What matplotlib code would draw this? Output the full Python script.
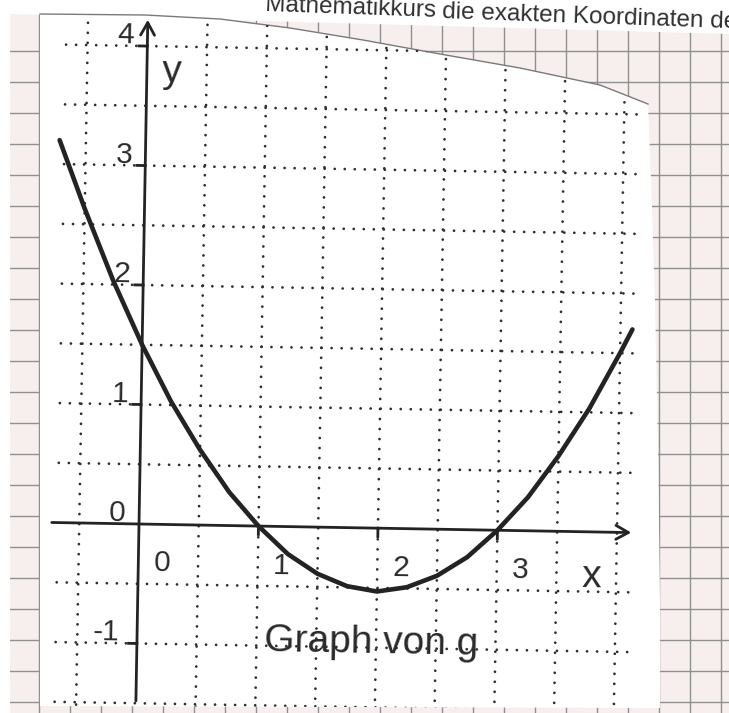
import numpy as np
import matplotlib.pyplot as plt
from matplotlib.patches import Polygon, Rectangle
from matplotlib.transforms import Affine2D

plt.rcParams['font.family'] = ['Liberation Sans', 'DejaVu Sans']

# points of g
x_vals = [-0.72, -0.5, -0.25, 0.0, 0.25, 0.5, 0.75, 1.0, 1.25, 1.5, 1.75, 2.0,
          2.25, 2.5, 2.75, 3.0, 3.25, 3.5, 3.75, 4.0, 4.1]
g_vals = [3.20, 2.63, 2.03, 1.50, 1.03, 0.63, 0.28, 0.0, -0.23, -0.39, -0.49, -0.53,
          -0.49, -0.39, -0.23, 0.0, 0.28, 0.63, 1.03, 1.50, 1.70]

x_tick_vals = [1, 2, 3]
y_tick_vals = [-1, 1, 2, 3, 4]
x_label_vals = [0, 1, 2, 3]
x_label_text = ['0', '1', '2', '3']
y_label_vals = [-1, 0, 1, 2, 3, 4]
y_label_text = ['-1', '0', '1', '2', '3', '4']

# dotted half-unit grid
grid_x = [-0.5, 0.5, 1.0, 1.5, 2.0, 2.5, 3.0, 3.5, 4.0]
grid_y = [-1.5, -1.0, -0.5, 0.5, 1.0, 1.5, 2.0, 2.5, 3.0, 3.5, 4.0]

W, H = 729, 713
unit = 119.5          # pixels per unit
ox_px, oy_px = 139, 524
tilt = -1.0           # scanned sheet is turned slightly clockwise

ink = '#232323'
dot_ink = '#2e2e2e'

fig = plt.figure(figsize=(W / 100, H / 100), dpi=100)
fig.patch.set_facecolor('white')

# background: graph paper and the cut-out sheet, in pixel coordinates
bg = fig.add_axes([0, 0, 1, 1])
bg.set_xlim(0, W)
bg.set_ylim(H, 0)
bg.axis('off')

graph_paper = Polygon([(10, 14), (300, 22), (729, 34), (729, 713), (10, 713)],
                      closed=True, facecolor='#f7efee', edgecolor='none', zorder=0)
bg.add_patch(graph_paper)
vl = bg.vlines(39 + 31 * np.arange(23), 0, H, colors='#8f8f8f', lw=1.0, zorder=0.5)
hl = bg.hlines(51 + 31 * np.arange(22), 0, W, colors='#8f8f8f', lw=1.0, zorder=0.5)
vl.set_clip_path(graph_paper)
hl.set_clip_path(graph_paper)

top_edge = [(40, 14), (145, 15), (220, 19), (290, 28), (363, 40), (440, 54),
            (520, 68), (600, 85), (648, 104)]
sheet_pts = top_edge + [(651, 180), (655, 300), (658, 450), (660, 600),
                        (660, 708), (40, 706)]
sheet = Polygon(sheet_pts, closed=True, facecolor='white', edgecolor='none', zorder=1)
bg.add_patch(sheet)
bg.plot([p[0] for p in top_edge], [p[1] for p in top_edge], color='#7a7a7a', lw=1.0, zorder=1.5)

# the line of task text above, cut by the top of the scan
head_kw = dict(fontsize=17.5, color='#303030', rotation=-2.0, rotation_mode='anchor',
               va='baseline', zorder=2)
head_a = bg.text(436, 16.8, 'Mathematikkurs', ha='right', **head_kw)
head_a.set_clip_path(Rectangle((298, -20), 500, 80, transform=bg.transData))
bg.text(442, 17.5, 'die exakten Koordinaten des', ha='left', **head_kw)

# chart axes in data units, then turned with the sheet
ax = fig.add_axes([0, 0, 1, 1])
ax.set_xlim(-ox_px / unit, (W - ox_px) / unit)
ax.set_ylim(-(H - oy_px) / unit, oy_px / unit)
ax.axis('off')
ax.patch.set_visible(False)

origin = ax.transData.transform((0, 0))
tr = ax.transData + Affine2D().rotate_deg_around(origin[0], origin[1], tilt)

dots = (0, (0.01, 3.6))
for gx in grid_x:
    ln, = ax.plot([gx, gx], [-1.52, 4.4], transform=tr, color=dot_ink, lw=2.0,
                  linestyle=dots, dash_capstyle='round', zorder=3)
    ln.set_clip_path(sheet)
for gy in grid_y:
    ln, = ax.plot([-0.68, 4.17], [gy, gy], transform=tr, color=dot_ink, lw=2.0,
                  linestyle=dots, dash_capstyle='round', zorder=3)
    ln.set_clip_path(sheet)

# coordinate axes with open arrow heads
arrow = dict(arrowstyle='->,head_length=0.45,head_width=0.25', lw=2.0, color=ink,
             shrinkA=0, shrinkB=0, mutation_scale=20)
ax.annotate('', xy=(0, 4.22), xytext=(0, -1.48), xycoords=tr, textcoords=tr,
            arrowprops=arrow, zorder=4)
ax.annotate('', xy=(4.12, 0), xytext=(-0.73, 0), xycoords=tr, textcoords=tr,
            arrowprops=arrow, zorder=4)

for t in y_tick_vals:
    ax.plot([-0.07, 0], [t, t], transform=tr, color=ink, lw=2.0, zorder=4)
for t in x_tick_vals:
    ax.plot([t, t], [0, -0.07], transform=tr, color=ink, lw=2.0, zorder=4)

# graph of g
ax.plot(x_vals, g_vals, transform=tr, color=ink, lw=3.3, zorder=5,
        solid_capstyle='round', solid_joinstyle='round')

txt = dict(transform=tr, rotation=tilt, rotation_mode='anchor', ha='center',
           va='baseline', color='#2a2a2a', zorder=6)
for v, s in zip(y_label_vals, y_label_text):
    lx = -0.26 if s == '-1' else -0.18
    ax.text(lx, v + 0.02, s, fontsize=21.5, **txt)
for v, s in zip(x_label_vals, x_label_text):
    ax.text(v + 0.2, -0.395, s, fontsize=21.5, **txt)

ax.text(3.79, -0.46, 'x', fontsize=28, **txt)
ax.text(0.21, 3.70, 'y', fontsize=28, **txt)
ax.text(1.96, -1.046, 'Graph von g', fontsize=28, **txt)

plt.savefig('out.png', dpi=100)
